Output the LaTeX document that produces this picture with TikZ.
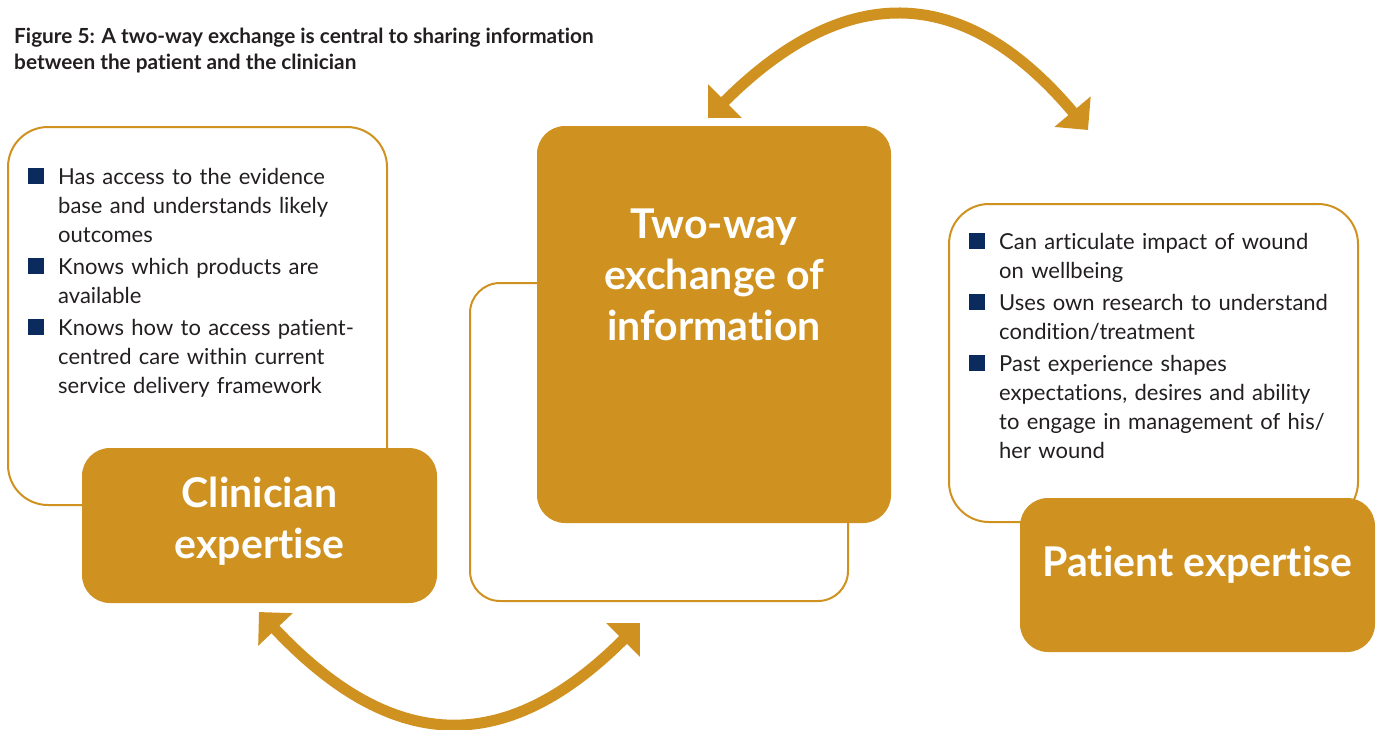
\documentclass[tikz,border=0pt]{standalone}
\usepackage{fontspec}
\setmainfont[Ligatures=NoCommon]{Lato}
\usetikzlibrary{arrows.meta,positioning}

\definecolor{gold}{HTML}{CF9220}
\definecolor{navyblue}{HTML}{0B2A5E}
\definecolor{inkgrey}{HTML}{231F20}

% one bullet point with hanging indent
\newcommand{\bpoint}[1]{\par\noindent\hangindent=30pt\hangafter=1%
  \makebox[30pt][l]{\textcolor{navyblue}{\rule{16pt}{16pt}}}#1\par}

\tikzset{
  outlinebox/.style={draw=gold, line width=2pt, rounded corners=40pt, fill=white},
  solidbox/.style={fill=gold, rounded corners=28pt},
  boxlabel/.style={text=white, font=\bfseries\fontsize{41}{51}\selectfont, align=center, inner sep=0pt},
  pointlist/.style={text=inkgrey, font=\fontsize{22}{29}\selectfont, align=left,
    text width=380pt, inner sep=0pt, anchor=north west},
  bigarrow/.style={draw=gold, line width=11pt,
    {Triangle[length=24pt,width=46pt]}-{Triangle[length=24pt,width=46pt]}}
}

\begin{document}
\begin{tikzpicture}[x=1pt,y=-1pt]
  \useasboundingbox (0,0) rectangle (1381,729);

  \node[text=inkgrey, font=\bfseries\fontsize{20.8}{26}\selectfont, align=left,
    inner sep=0pt, anchor=north west] (title) at (14,28)
    {Figure 5: A two-way exchange is central to sharing information\\between the patient and the clinician};

  % clinician side
  \node[outlinebox, minimum width=379pt, minimum height=378pt] (clinout) at (197.5,316) {};
  \node[solidbox, minimum width=355pt, minimum height=155pt] (clinbox) at (259.5,525.5) {};
  \node[boxlabel] (clinlabel) at (259.5,521) {Clinician\\expertise};
  \node[pointlist] (clinpoints) at (28,152) {\setlength{\parskip}{3pt}%
    \bpoint{Has access to the evidence\newline base and understands likely\newline outcomes}%
    \bpoint{Knows which products are\newline available}%
    \bpoint{Knows how to access patient-\newline centred care within current\newline service delivery framework}};

  % exchange in the middle
  \node[outlinebox, rounded corners=30pt, minimum width=378pt, minimum height=318pt] (exchout) at (659,442) {};
  \node[solidbox, minimum width=354pt, minimum height=397pt] (exchbox) at (714,324.5) {};
  \node[boxlabel] (exchlabel) at (714,275) {Two-way\\exchange of\\information};

  % patient side
  \node[outlinebox, minimum width=409pt, minimum height=318pt] (patout) at (1153.5,363) {};
  \node[solidbox, minimum width=355pt, minimum height=154pt] (patbox) at (1197.5,575) {};
  \node[boxlabel] (patlabel) at (1197.5,565) {Patient expertise};
  \node[pointlist] (patpoints) at (969,217) {\setlength{\parskip}{3pt}%
    \bpoint{Can articulate impact of wound\newline on wellbeing}%
    \bpoint{Uses own research to understand\newline condition/treatment}%
    \bpoint{Past experience shapes\newline expectations, desires and ability\newline to engage in management of his/\newline her wound}};

  % the two curved double arrows
  \coordinate (topleft) at (708,118);
  \coordinate (topright) at (1088,130);
  \coordinate (botleft) at (259,612);
  \coordinate (botright) at (640,623);
  \draw[bigarrow] (topleft) .. controls +(133,-133) and +(-128,-152) .. (topright);
  \draw[bigarrow] (botleft) .. controls +(131,139) and +(-137,137) .. (botright);
\end{tikzpicture}
\end{document}
